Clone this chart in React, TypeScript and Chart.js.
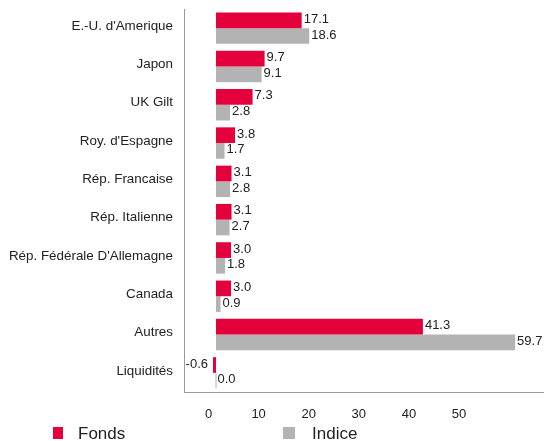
import React, { useEffect, useRef } from "react";
import { Chart, registerables } from "chart.js";

Chart.register(...registerables);

const categories = [
  "E.-U. d'Amerique",
  "Japon",
  "UK Gilt",
  "Roy. d'Espagne",
  "Rép. Francaise",
  "Rép. Italienne",
  "Rép. Fédérale D'Allemagne",
  "Canada",
  "Autres",
  "Liquidités",
];
const fonds = [17.1, 9.7, 7.3, 3.8, 3.1, 3.1, 3.0, 3.0, 41.3, -0.6];
const indice = [18.6, 9.1, 2.8, 1.7, 2.8, 2.7, 1.8, 0.9, 59.7, 0.0];
const xTicks = [0, 10, 20, 30, 40, 50];
const seriesNames = ["Fonds", "Indice"];

const RED = "#E4003B";
const GREY = "#B3B3B3";
const FONT = "'Liberation Sans', Arial, sans-serif";
const TEXT = "#222222";
const AXIS = "#999999";

const valueLabels = {
  id: "valueLabels",
  afterDatasetsDraw(chart: any) {
    const ctx = chart.ctx;
    ctx.save();
    ctx.font = `13px ${FONT}`;
    ctx.fillStyle = TEXT;
    ctx.textBaseline = "middle";
    chart.data.datasets.forEach((ds: any, di: number) => {
      const meta = chart.getDatasetMeta(di);
      meta.data.forEach((bar: any, i: number) => {
        const v = ds.data[i] as number;
        const txt = v.toFixed(1);
        if (v < 0) {
          ctx.textAlign = "right";
          ctx.fillText(txt, bar.x - 5, bar.y - 1);
        } else {
          ctx.textAlign = "left";
          ctx.fillText(txt, bar.x + 2, bar.y - 1);
        }
      });
    });
    ctx.restore();
  },
};

const customLegend = {
  id: "customLegend",
  afterDraw(chart: any) {
    const ctx = chart.ctx;
    const w = chart.width;
    const positions = [0.097, 0.52];
    ctx.save();
    ctx.font = `17px ${FONT}`;
    ctx.textBaseline = "alphabetic";
    ctx.textAlign = "left";
    chart.data.datasets.forEach((ds: any, i: number) => {
      const x = Math.round(w * positions[i]);
      ctx.fillStyle = ds.backgroundColor;
      ctx.fillRect(x, 427, i === 0 ? 10 : 12, 12);
      ctx.fillStyle = TEXT;
      ctx.fillText(seriesNames[i], x + (i === 0 ? 25 : 29), 439);
    });
    ctx.restore();
  },
};

export default function App() {
  const ref = useRef<HTMLCanvasElement | null>(null);

  useEffect(() => {
    if (!ref.current) return;
    const chart = new Chart(ref.current, {
      type: "bar",
      data: {
        labels: categories,
        datasets: [
          {
            label: seriesNames[0],
            data: fonds,
            backgroundColor: RED,
            borderWidth: 0,
          },
          {
            label: seriesNames[1],
            data: indice,
            backgroundColor: GREY,
            borderWidth: 0,
            minBarLength: 1,
          },
        ],
      },
      options: {
        indexAxis: "y",
        responsive: false,
        animation: false,
        maintainAspectRatio: false,
        layout: { padding: { top: 9, right: 0, bottom: 0, left: 0 } },
        datasets: {
          bar: { barPercentage: 1, categoryPercentage: 0.82 },
        },
        plugins: {
          legend: { display: false },
          tooltip: { enabled: false },
        },
        scales: {
          x: {
            min: -6.39,
            max: 65.47,
            afterBuildTicks: (scale: any) => {
              scale.ticks = xTicks.map((v) => ({ value: v }));
            },
            afterFit: (scale: any) => {
              scale.height = 49;
              scale.paddingLeft = 0;
              scale.paddingRight = 0;
            },
            grid: { display: false, drawTicks: false },
            border: { display: true, color: AXIS, width: 1 },
            ticks: {
              padding: 15,
              labelOffset: -7.5,
              color: TEXT,
              font: { family: FONT, size: 13 },
              maxRotation: 0,
              autoSkip: false,
            },
          },
          y: {
            afterFit: (scale: any) => {
              scale.width = 184;
              scale.paddingTop = 0;
              scale.paddingBottom = 0;
            },
            grid: { display: false, drawTicks: false },
            border: { display: true, color: AXIS, width: 1 },
            ticks: {
              padding: 11,
              labelOffset: -2,
              color: TEXT,
              font: { family: FONT, size: 13.4 },
              autoSkip: false,
            },
          },
        },
      },
      plugins: [valueLabels, customLegend],
    });
    return () => chart.destroy();
  }, []);

  return (
    <div style={{ position: "absolute", left: 0, top: 0, width: 544, height: 441, background: "#fff" }}>
      <canvas ref={ref} width={544} height={441} style={{ display: "block" }} />
    </div>
  );
}
